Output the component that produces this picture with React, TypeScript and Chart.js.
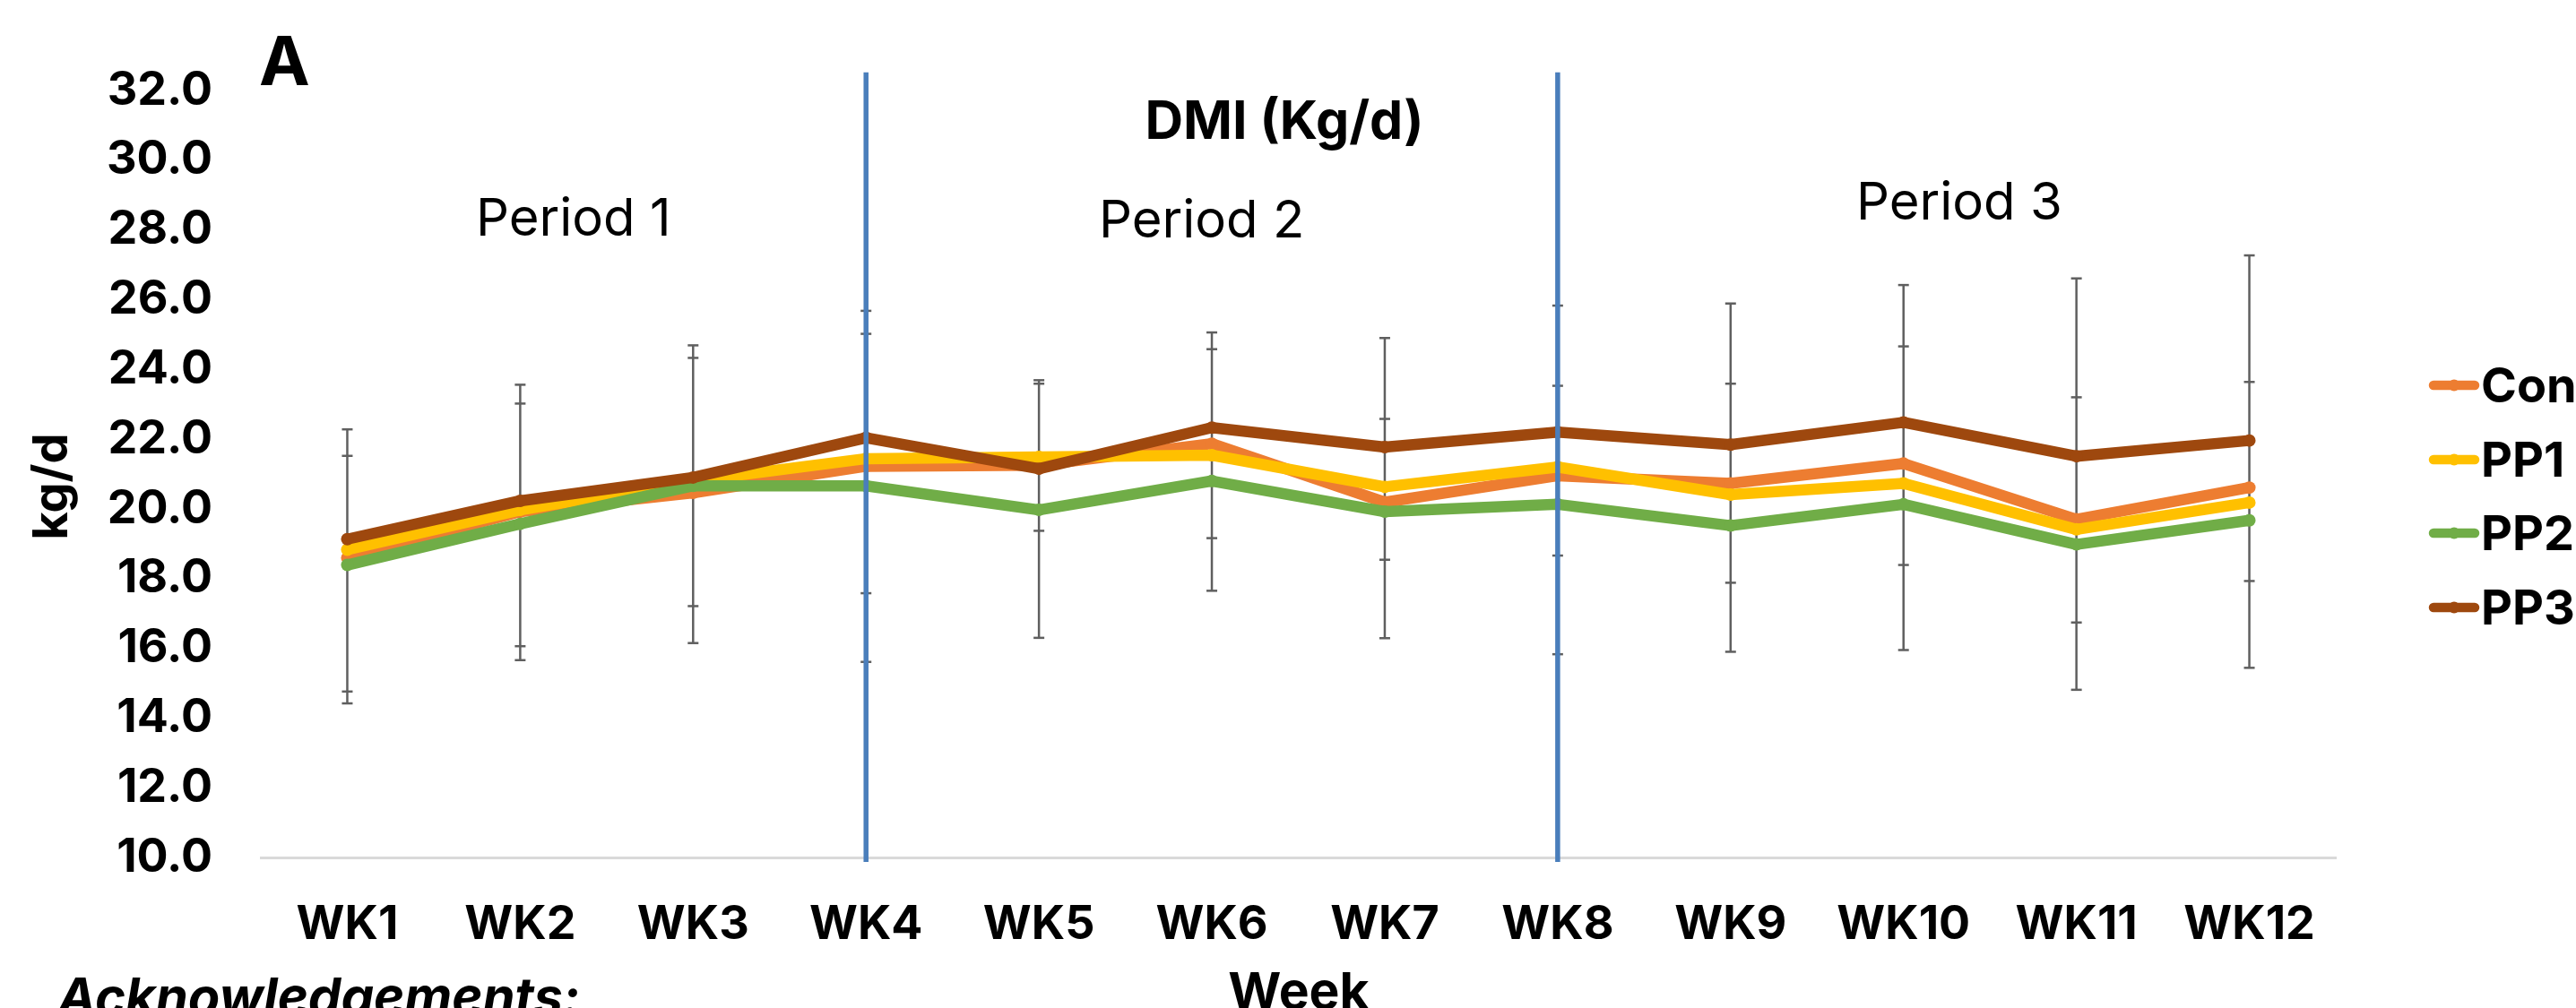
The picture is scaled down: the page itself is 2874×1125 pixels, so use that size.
import React, { useEffect, useRef } from "react";
import { Chart, registerables } from "chart.js";

Chart.register(...registerables);

const weeks = ["WK1", "WK2", "WK3", "WK4", "WK5", "WK6", "WK7", "WK8", "WK9", "WK10", "WK11", "WK12"];
const seriesNames = ["Con", "PP1", "PP2", "PP3"];
const seriesColors = ["#ED7D31", "#FFC000", "#70AD47", "#9E480E"];
const conValues = [18.59, 19.92, 20.46, 21.22, 21.25, 21.87, 20.19, 20.95, 20.73, 21.3, 19.7, 20.61];
const pp1Values = [18.83, 19.97, 20.8, 21.44, 21.49, 21.54, 20.63, 21.2, 20.41, 20.73, 19.41, 20.18];
const pp2Values = [18.39, 19.57, 20.66, 20.66, 19.97, 20.8, 19.92, 20.13, 19.52, 20.13, 18.98, 19.67];
const pp3Values = [19.13, 20.23, 20.9, 22.04, 21.15, 22.33, 21.77, 22.2, 21.84, 22.48, 21.51, 21.96];
const errUpperOuter = [22.28, 23.56, 24.69, 25.68, 23.69, 25.06, 24.9, 25.83, 25.89, 26.42, 26.61, 27.27];
const errUpperInner = [21.52, 23.02, 24.33, 25.02, 23.59, 24.58, 22.58, 23.53, 23.59, 24.66, 23.2, 23.64];
const errLowerInner = [14.76, 16.06, 17.21, 17.58, 19.37, 19.16, 18.54, 18.66, 17.88, 18.39, 16.74, 17.93];
const errLowerOuter = [14.42, 15.66, 16.15, 15.61, 16.3, 17.65, 16.29, 15.83, 15.9, 15.95, 14.81, 15.44];
const yTickValues = [10, 12, 14, 16, 18, 20, 22, 24, 26, 28, 30, 32];
const periodLabels = ["Period 1", "Period 2", "Period 3"];
const periodDividers = ["WK4", "WK8"];
const chartTitle = "DMI (Kg/d)";
const panelLetter = "A";
const yAxisTitle = "kg/d";
const xAxisTitle = "Week";
const footerText = "Acknowledgements:";

const FONT = "Inter, 'Liberation Sans', Arial, sans-serif";

const seriesValues = [conValues, pp1Values, pp2Values, pp3Values];

const overlayPlugin = {
  id: "overlay",
  beforeDatasetsDraw(chart: any) {
    const { ctx } = chart;
    const x = chart.scales.x;
    const y = chart.scales.y;
    ctx.save();
    ctx.strokeStyle = "#5F5F5F";
    ctx.lineWidth = 2.5;
    weeks.forEach((_, i) => {
      const px = x.getPixelForValue(i);
      const vals = [errUpperOuter[i], errUpperInner[i], errLowerInner[i], errLowerOuter[i]];
      const top = y.getPixelForValue(Math.max(...vals));
      const bot = y.getPixelForValue(Math.min(...vals));
      ctx.beginPath();
      ctx.moveTo(px, top);
      ctx.lineTo(px, bot);
      ctx.stroke();
      vals.forEach((v) => {
        const py = y.getPixelForValue(v);
        ctx.beginPath();
        ctx.moveTo(px - 6, py);
        ctx.lineTo(px + 6, py);
        ctx.stroke();
      });
    });
    ctx.restore();
  },
  afterDatasetsDraw(chart: any) {
    const { ctx } = chart;
    const x = chart.scales.x;
    const y = chart.scales.y;
    ctx.save();
    ctx.strokeStyle = "#4A7EBB";
    ctx.lineWidth = 5.5;
    periodDividers.forEach((wk) => {
      const px = x.getPixelForValue(weeks.indexOf(wk));
      ctx.beginPath();
      ctx.moveTo(px, y.getPixelForValue(32.52));
      ctx.lineTo(px, y.getPixelForValue(9.87));
      ctx.stroke();
    });
    ctx.restore();
  },
  afterDraw(chart: any) {
    const { ctx } = chart;
    ctx.save();
    ctx.fillStyle = "#000";
    ctx.textBaseline = "alphabetic";
    ctx.font = `bold 76px ${FONT}`;
    ctx.textAlign = "left";
    ctx.fillText(panelLetter, 289, 95);
    ctx.font = `bold 59px ${FONT}`;
    ctx.textAlign = "center";
    ctx.fillText(chartTitle, 1433, 155);
    ctx.font = `58px ${FONT}`;
    ctx.textAlign = "left";
    ctx.fillText(periodLabels[0], 531, 263);
    ctx.fillText(periodLabels[1], 1226, 265);
    ctx.fillText(periodLabels[2], 2071, 245);
    ctx.save();
    ctx.translate(75, 543);
    ctx.rotate(-Math.PI / 2);
    ctx.font = `bold 54px ${FONT}`;
    ctx.textAlign = "center";
    ctx.fillText(yAxisTitle, 0, 0);
    ctx.restore();
    ctx.font = `bold 57px ${FONT}`;
    ctx.textAlign = "center";
    ctx.fillText(xAxisTitle, 1449, 1126);
    ctx.font = `italic bold 58px ${FONT}`;
    ctx.textAlign = "left";
    ctx.fillText(footerText, 64, 1133);
    const legendY = [430, 513, 595, 678];
    seriesNames.forEach((name, i) => {
      const ly = legendY[i];
      ctx.strokeStyle = seriesColors[i];
      ctx.lineWidth = 10.5;
      ctx.lineCap = "round";
      ctx.beginPath();
      ctx.moveTo(2715, ly);
      ctx.lineTo(2761, ly);
      ctx.stroke();
      ctx.fillStyle = seriesColors[i];
      ctx.beginPath();
      ctx.arc(2738, ly, 6.5, 0, Math.PI * 2);
      ctx.fill();
      ctx.fillStyle = "#000";
      ctx.font = `bold 54px ${FONT}`;
      ctx.textAlign = "left";
      ctx.fillText(name, 2768, ly + 19);
    });
    ctx.restore();
  },
};

export default function App() {
  const canvasRef = useRef<HTMLCanvasElement | null>(null);

  useEffect(() => {
    if (!canvasRef.current) return;
    const order = [4, 3, 2, 1];
    const chart = new Chart(canvasRef.current, {
      type: "line",
      data: {
        labels: weeks,
        datasets: seriesNames.map((name, i) => ({
          label: name,
          data: seriesValues[i],
          borderColor: seriesColors[i],
          backgroundColor: seriesColors[i],
          borderWidth: 12.5,
          pointRadius: 7,
          pointBorderWidth: 0,
          pointHoverRadius: 7,
          borderJoinStyle: "round" as const,
          borderCapStyle: "round" as const,
          tension: 0,
          fill: false,
          order: order[i],
        })),
      },
      options: {
        animation: false,
        responsive: false,
        maintainAspectRatio: false,
        devicePixelRatio: 1,
        layout: { padding: { left: 0, right: 268, top: 101, bottom: 0 } },
        plugins: {
          legend: { display: false },
          tooltip: { enabled: false },
          title: { display: false },
        },
        scales: {
          x: {
            type: "category",
            offset: true,
            grid: { display: false, offset: true },
            border: { display: true, color: "#D9D9D9", width: 3 },
            ticks: {
              color: "#000",
              font: { family: FONT, weight: "bold", size: 52 },
              padding: 36,
              maxRotation: 0,
              autoSkip: false,
            },
            afterFit: (scale: any) => {
              scale.height = 168;
            },
          },
          y: {
            type: "linear",
            min: 10,
            max: 32,
            grid: { display: false, drawTicks: false },
            border: { display: false },
            afterBuildTicks: (scale: any) => {
              scale.ticks = yTickValues.map((v) => ({ value: v }));
            },
            ticks: {
              color: "#000",
              font: { family: FONT, weight: "bold", size: 52 },
              padding: 54,
              callback: (v: any) => Number(v).toFixed(1),
            },
            afterFit: (scale: any) => {
              scale.width = 291;
            },
          },
        },
      },
      plugins: [overlayPlugin],
    });
    return () => chart.destroy();
  }, []);

  return (
    <div style={{ position: "absolute", left: 0, top: 0, width: 2874, height: 1125, background: "#fff" }}>
      <canvas ref={canvasRef} width={2874} height={1125} style={{ width: 2874, height: 1125, display: "block" }} />
    </div>
  );
}
